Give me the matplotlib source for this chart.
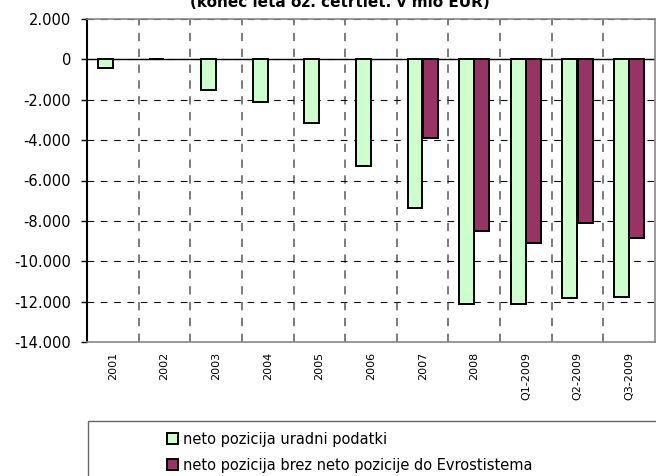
import numpy as np
import matplotlib.pyplot as plt
from matplotlib.patches import Rectangle
from matplotlib.ticker import FuncFormatter

plt.rcParams['font.family'] = ['DejaVu Sans']

kategorije = ['2001', '2002', '2003', '2004', '2005', '2006', '2007', '2008',
              'Q1-2009', 'Q2-2009', 'Q3-2009']
uradni = [-450, 30, -1500, -2110, -3150, -5300, -7370, -12100, -12100, -11830, -11780]
brez_evro = [np.nan, np.nan, np.nan, np.nan, np.nan, np.nan, -3880, -8500, -9120, -8120, -8840]
oznake = ['neto pozicija uradni podatki',
          'neto pozicija brez neto pozicije do Evrostistema']

zelena = '#CCFFCC'
vijolicna = '#993366'

fig = plt.figure(figsize=(6.56, 4.76), dpi=100)
ax = fig.add_axes([87/656, 1-342/476, (655-87)/656, (342-19)/476])

x = np.arange(len(kategorije))
w = 0.29
b1 = ax.bar(x - w/2 - 0.003, uradni, w, color=zelena, edgecolor='black', linewidth=1.4, label=oznake[0], zorder=3)
b2 = ax.bar(x + w/2 + 0.003, brez_evro, w, color=vijolicna, edgecolor='black', linewidth=1.4, label=oznake[1], zorder=3)

ax.set_xlim(-0.5, len(kategorije) - 0.5)
ax.set_ylim(-14000, 2000)
ax.set_yticks(np.arange(-14000, 2001, 2000))
ax.yaxis.set_major_formatter(FuncFormatter(lambda v, p: f'{int(v):,}'.replace(',', '.')))
ax.set_xticks(x)
ax.set_xticklabels(kategorije, rotation=90, fontsize=8)
ax.set_xticks(np.arange(0.5, len(kategorije) - 1, 1), minor=True)
ax.tick_params(axis='y', labelsize=10.5, length=4.5, width=1, pad=7)
ax.tick_params(axis='x', which='major', length=0, pad=7)
ax.tick_params(axis='x', which='minor', length=0)

ax.yaxis.grid(True, linestyle=(0, (6, 6)), color='#111111', linewidth=0.8, zorder=1)
ax.xaxis.grid(True, which='minor', linestyle=(0, (5, 4.5)), color='#666666', linewidth=1.2, zorder=1)
ax.axhline(0, color='black', linewidth=1, zorder=2)

for s in ['top', 'right', 'bottom']:
    ax.spines[s].set_color('#888888')
    ax.spines[s].set_linewidth(1.2)
ax.spines['left'].set_color('black')
ax.spines['left'].set_linewidth(1.5)

# naslov je v izvirniku odrezan na vrhu
fig.text(340/656, 1 - 7/476, '(konec leta oz. četrtlet. v mio EUR)', ha='center', va='baseline',
         fontsize=11, fontweight='bold')

fig.patches.append(Rectangle((88/656, -0.05), 0.9, 1 - 421/476 + 0.05, transform=fig.transFigure,
                             facecolor='none', edgecolor='#666666', linewidth=1))
fig.legend(handles=[b1, b2], labels=oznake, loc='upper left', bbox_to_anchor=(161/656, 1 - 426/476),
           frameon=False, fontsize=10.5, handlelength=0.75, handleheight=0.75, handletextpad=0.35,
           labelspacing=0.75, borderaxespad=0)

fig.savefig('out.png', dpi=100)
